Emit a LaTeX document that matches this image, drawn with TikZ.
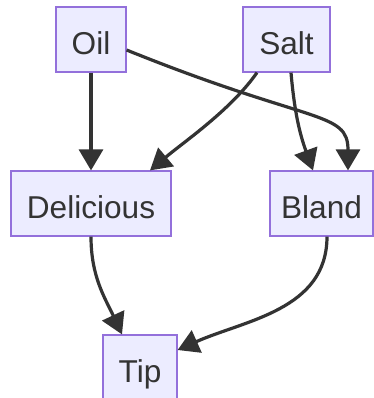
\documentclass[tikz,border=0pt]{standalone}
\usepackage{fontspec}
\setmainfont{Liberation Sans}
\usetikzlibrary{arrows.meta}
\definecolor{boxfill}{HTML}{ECECFF}
\definecolor{boxline}{HTML}{9370DB}
\definecolor{ink}{HTML}{333333}
\tikzset{item/.style={draw=boxline, fill=boxfill, line width=0.6pt, text=ink, font=\fontsize{15.8}{19}\selectfont, minimum height=32.5pt, inner sep=0pt, text height=15.3pt, text depth=0pt}}
\tikzset{link/.style={draw=ink, line width=1.6pt, -{Triangle[length=10.5pt,width=12pt]}}}

\begin{document}
\begin{tikzpicture}[x=0.5pt, y=-0.5pt]
    \useasboundingbox (0,0) rectangle (374,398);

    \node[item, minimum width=35pt]   (oil)       at (91,39.5)    {Oil};
    \node[item, minimum width=43.5pt] (salt)      at (286.5,39.5) {Salt};
    \node[item, minimum width=80pt]   (delicious) at (91,203.5)   {Delicious};
    \node[item, minimum width=51.5pt] (bland)     at (321.5,203.5) {Bland};
    \node[item, minimum width=37pt]   (tip)       at (140,367.5)  {Tip};

    \draw[link] (oil) -- (delicious);
    \draw[link] ([yshift=-5.25pt]oil.east) .. controls +(-22:100pt) and +(90:30pt) .. ([xshift=13.25pt]bland.north);
    \draw[link] ([xshift=-14.75pt]salt.south) to[out=-125, in=40, looseness=0.8] ([xshift=29.5pt]delicious.north);
    \draw[link] ([xshift=2.25pt]salt.south) to[out=-85, in=110] ([xshift=-4.25pt]bland.north);
    \draw[link] (delicious.south) to[out=-90, in=115] ([xshift=-9pt]tip.north);
    \draw[link] ([xshift=2.75pt]bland.south) to[out=-90, in=24] ([yshift=8.75pt]tip.east);

\end{tikzpicture}
\end{document}
